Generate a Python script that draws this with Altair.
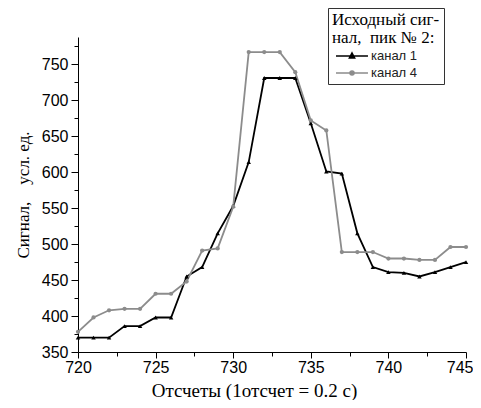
import altair as alt
import pandas as pd

samples = list(range(720, 746))
channel1 = [370, 370, 370, 386, 386, 398, 398, 455, 468, 515, 553, 614, 731, 731, 731,
            668, 601, 598, 515, 468, 461, 460, 455, 461, 468, 475]
channel4 = [378, 398, 408, 410, 410, 431, 431, 448, 491, 494, 552, 767, 767, 767, 739,
            672, 658, 489, 489, 489, 480, 480, 478, 478, 496, 496]
series_names = ["канал 1", "канал 4"]
series_colors = ["#000000", "#8c8c8c"]

rows = []
for name, vals in zip(series_names, [channel1, channel4]):
    for s, v in zip(samples, vals):
        rows.append({"x": s, "y": v, "series": name})
df = pd.DataFrame(rows)

x_vals = [720 + 2.5 * i for i in range(11)]
y_vals = list(range(350, 800, 25))

x_axis = alt.Axis(
    values=x_vals,
    labelExpr="datum.value % 5 == 0 ? datum.label : ''",
    tickSize={"condition": {"test": "datum.value % 5 == 0", "value": 6}, "value": 4},
    labelAlign={"condition": {"test": "datum.value == 745", "value": "right"}, "value": "center"},
    labelOffset={"condition": {"test": "datum.value == 745", "value": 7}, "value": 0},
    title="Отсчеты (1отсчет = 0.2 с)",
    titleFont="Liberation Serif", titleFontSize=19, titleFontWeight="normal",
    titleColor="black", titleX=176, titleY=44, titleBaseline="alphabetic",
    labelFont="Liberation Sans", labelFontSize=16, labelColor="black",
    labelPadding=1, domainColor="black", tickColor="black", grid=False,
    labelFlush=False,
)
y_axis = alt.Axis(
    values=y_vals,
    labelExpr="datum.value % 50 == 0 ? datum.label : ''",
    tickSize={"condition": {"test": "datum.value % 50 == 0", "value": 7}, "value": 4},
    title="Сигнал,\u00a0\u00a0\u00a0\u00a0усл. ед.",
    titleFont="Liberation Serif", titleFontSize=17, titleFontWeight="normal",
    titleColor="black", titlePadding=9,
    labelFont="Liberation Sans", labelFontSize=16, labelColor="black",
    labelPadding=3, domainColor="black", tickColor="black", grid=False,
)

xenc = alt.X("x:Q", scale=alt.Scale(domain=[720, 745], nice=False, zero=False), axis=x_axis)
yenc = alt.Y("y:Q", scale=alt.Scale(domain=[350, 788], nice=False, zero=False), axis=y_axis)

tri = "M-0.5,0H4.83M2.17,-0.5L2.6,0.33L1.74,0.33Z"
circ = "M-0.5,0H4.83M2.5,0A0.33,0.33,0,1,1,1.84,0A0.33,0.33,0,1,1,2.5,0Z"

legend = alt.Legend(
    orient="none", legendX=250, legendY=-29,
    title=["Исходный сиг-" + "\u00a0" * 16, "нал,\u00a0\u00a0пик № 2:"],
    titleFont="Liberation Serif", titleFontSize=17, titleFontWeight="normal",
    titleColor="black", titleLineHeight=18, titlePadding=2,
    labelFont="Liberation Sans", labelFontSize=13, labelColor="#222",
    labelOffset=25, symbolSize=144, symbolStrokeWidth=1.6, rowPadding=3,
    strokeColor="#333", padding=4,
)

cscale = alt.Scale(domain=series_names, range=series_colors)
color = alt.Color("series:N", scale=cscale, legend=legend)

lines = alt.Chart(df).mark_line(strokeWidth=1.8).encode(x=xenc, y=yenc, color=color)
pts1 = alt.Chart(df).transform_filter(alt.datum.series == series_names[0]).mark_point(
    filled=True, size=20, opacity=1, shape="triangle-up").encode(x=xenc, y=yenc, color=color)
pts4 = alt.Chart(df).transform_filter(alt.datum.series == series_names[1]).mark_point(
    filled=True, size=18, opacity=1, shape="circle").encode(x=xenc, y=yenc, color=color)
leg = alt.Chart(df).transform_filter(alt.datum.x < 0).mark_point(filled=False, opacity=1).encode(
    color=color,
    fill=alt.Fill("series:N", scale=cscale, legend=legend),
    shape=alt.Shape("series:N", scale=alt.Scale(domain=series_names, range=[tri, circ]), legend=legend),
)

chart = alt.layer(lines, pts1, pts4, leg).properties(
    width=388, height=315,
    autosize=alt.AutoSizeParams(type="none"),
    padding={"left": 70, "top": 29, "right": 7, "bottom": 48},
).configure_view(stroke=None)

chart.save("out.html", embed_options={"renderer": "svg", "actions": False})
